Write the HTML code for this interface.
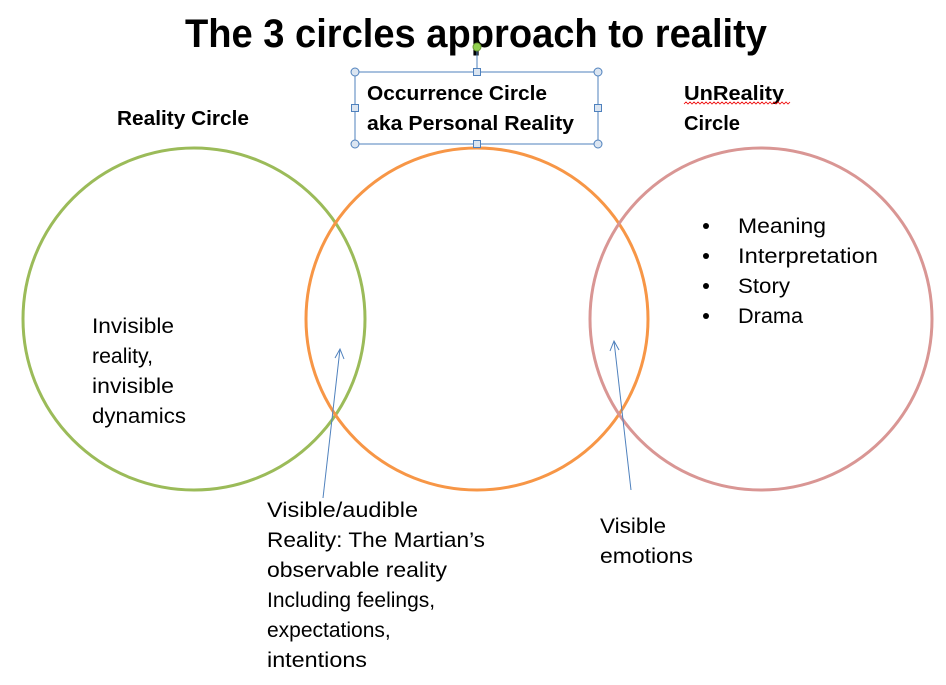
<!DOCTYPE html>
<html><head><meta charset="utf-8"><style>
html,body{margin:0;padding:0;background:#fff;}
svg{display:block;}
text{font-family:"Liberation Sans",sans-serif;fill:#000;}
.b{font-weight:bold;}
</style></head><body>
<svg width="946" height="685" viewBox="0 0 946 685" xmlns="http://www.w3.org/2000/svg">
<text class="b" x="185" y="47" font-size="40" textLength="582" lengthAdjust="spacingAndGlyphs">The 3 circles approach to reality</text>

<circle cx="194" cy="319" r="171" fill="none" stroke="#9bbb59" stroke-width="3"/>
<circle cx="477" cy="319" r="171" fill="none" stroke="#f79646" stroke-width="3"/>
<circle cx="761" cy="319" r="171" fill="none" stroke="#d99694" stroke-width="3"/>

<line x1="477" y1="48" x2="477" y2="72" stroke="#4f81bd" stroke-width="1"/>
<rect x="355" y="72" width="243" height="72" fill="none" stroke="#4f81bd" stroke-width="1"/>
<g fill="#dbe5f1" stroke="#4f81bd" stroke-width="1">
<circle cx="355" cy="72" r="4"/><circle cx="598" cy="72" r="4"/>
<circle cx="355" cy="144" r="4"/><circle cx="598" cy="144" r="4"/>
<rect x="473.5" y="68.5" width="7" height="7"/><rect x="473.5" y="140.5" width="7" height="7"/>
<rect x="351.5" y="104.5" width="7" height="7"/><rect x="594.5" y="104.5" width="7" height="7"/>
</g>
<circle cx="477" cy="47" r="4" fill="#92d050" stroke="#6a9a30" stroke-width="1"/>
<text class="b" x="367" y="100" font-size="20" textLength="180" lengthAdjust="spacingAndGlyphs">Occurrence Circle</text>
<text class="b" x="367" y="130" font-size="20" textLength="207" lengthAdjust="spacingAndGlyphs">aka Personal Reality</text>

<text class="b" x="117" y="125" font-size="20" textLength="132" lengthAdjust="spacingAndGlyphs">Reality Circle</text>
<text class="b" x="684" y="100" font-size="20" textLength="100" lengthAdjust="spacingAndGlyphs">UnReality</text>
<path d="M684 104 l2 -2 l2 2 l2 -2 l2 2 l2 -2 l2 2 l2 -2 l2 2 l2 -2 l2 2 l2 -2 l2 2 l2 -2 l2 2 l2 -2 l2 2 l2 -2 l2 2 l2 -2 l2 2 l2 -2 l2 2 l2 -2 l2 2 l2 -2 l2 2 l2 -2 l2 2 l2 -2 l2 2 l2 -2 l2 2 l2 -2 l2 2 l2 -2 l2 2 l2 -2 l2 2 l2 -2 l2 2 l2 -2 l2 2 l2 -2 l2 2 l2 -2 l2 2 l2 -2 l2 2 l2 -2 l2 2 l2 -2 l2 2 l2 -2" fill="none" stroke="#e00" stroke-width="0.8"/>
<text class="b" x="684" y="130" font-size="20" textLength="56" lengthAdjust="spacingAndGlyphs">Circle</text>

<g font-size="21">
<circle cx="706" cy="226" r="3" fill="#000"/><text x="738" y="233" textLength="88" lengthAdjust="spacingAndGlyphs">Meaning</text>
<circle cx="706" cy="256" r="3" fill="#000"/><text x="738" y="263" textLength="140" lengthAdjust="spacingAndGlyphs">Interpretation</text>
<circle cx="706" cy="286" r="3" fill="#000"/><text x="738" y="293" textLength="52" lengthAdjust="spacingAndGlyphs">Story</text>
<circle cx="706" cy="316" r="3" fill="#000"/><text x="738" y="323" textLength="65" lengthAdjust="spacingAndGlyphs">Drama</text>

<text x="92" y="333" textLength="82" lengthAdjust="spacingAndGlyphs">Invisible</text>
<text x="92" y="363" textLength="61" lengthAdjust="spacingAndGlyphs">reality,</text>
<text x="92" y="393" textLength="82" lengthAdjust="spacingAndGlyphs">invisible</text>
<text x="92" y="423" textLength="94" lengthAdjust="spacingAndGlyphs">dynamics</text>

<text x="267" y="517" textLength="151" lengthAdjust="spacingAndGlyphs">Visible/audible</text>
<text x="267" y="547" textLength="218" lengthAdjust="spacingAndGlyphs">Reality: The Martian’s</text>
<text x="267" y="577" textLength="180" lengthAdjust="spacingAndGlyphs">observable reality</text>
<text x="267" y="607">Including feelings,</text>
<text x="267" y="637">expectations,</text>
<text x="267" y="667" textLength="100" lengthAdjust="spacingAndGlyphs">intentions</text>

<text x="600" y="533" textLength="66" lengthAdjust="spacingAndGlyphs">Visible</text>
<text x="600" y="563" textLength="93" lengthAdjust="spacingAndGlyphs">emotions</text>
</g>

<g stroke="#4f81bd" stroke-width="1" fill="none">
<line x1="323" y1="498" x2="340" y2="349"/>
<path d="M335 358 L340 349 L344 359"/>
<line x1="631" y1="490" x2="614" y2="341"/>
<path d="M610 351 L614 341 L619 350"/>
</g>
</svg>
</body></html>
